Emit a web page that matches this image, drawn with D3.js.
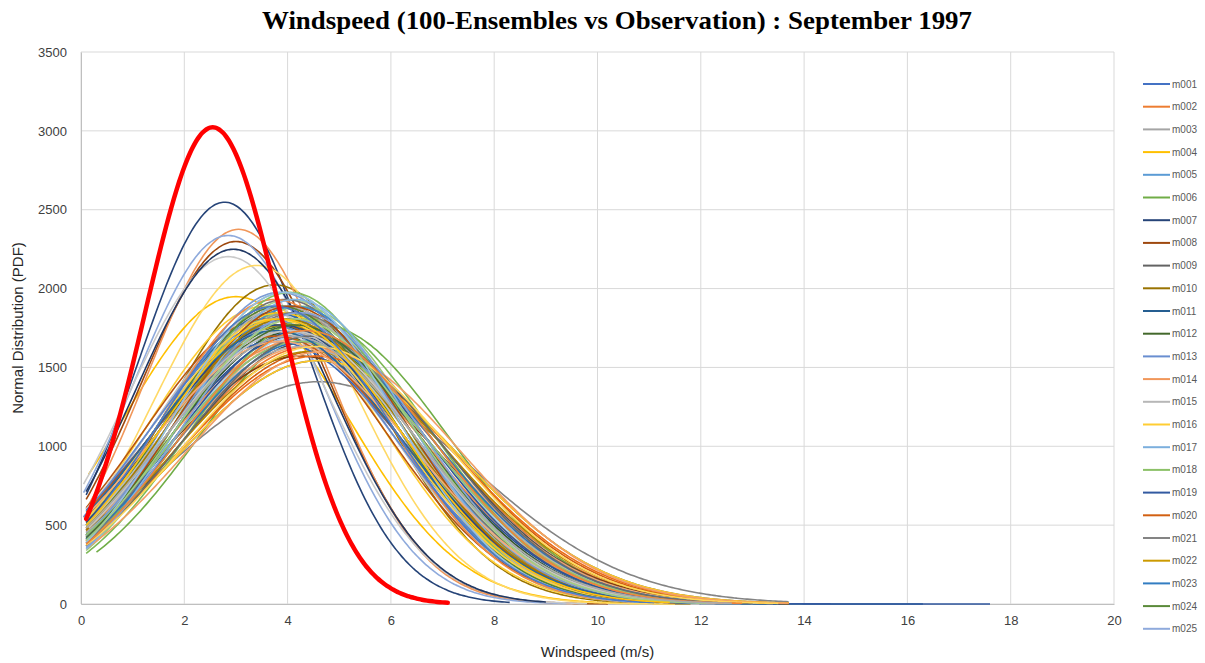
<!DOCTYPE html>
<html>
<head>
<meta charset="utf-8">
<script src="https://cdnjs.cloudflare.com/ajax/libs/d3/7.8.5/d3.min.js"></script>
<style>
  body { margin: 0; background: #fff; }
  svg { display: block; }
</style>
</head>
<body>
<div class="canvas"></div>
<script>
// ---- data ----
// each ensemble member is a normal curve: mean and std dev (m/s), plus the windspeed range it was plotted over
const ensembleTotal = 10600;
const obsTotal = 10000;

const memberMeans = [
  3.85, 4.45, 3.75, 3.0, 3.95, 4.7, 2.78, 3.0, 4.6, 3.75,
  4.15, 3.85, 3.65, 3.05, 3.75, 3.55, 4.05, 3.95, 4.25, 4.55,
  4.6, 3.85, 4.15, 3.75, 2.85, 4.35, 2.85, 3.4, 3.95, 4.05,
  2.95, 4.25, 4.45, 3.95, 3.75, 4.15, 3.85, 4.35, 3.65, 4.05,
  3.85, 4.25, 4.15, 3.55, 3.95, 4.45, 3.75, 4.05, 4.35, 3.85,
  3.65, 4.15, 4.25, 3.95, 3.75, 4.55, 4.05, 3.85, 4.15, 4.35,
  3.95, 3.75, 4.25, 3.85, 4.05, 4.45, 3.65, 4.15, 3.95, 4.6,
  3.85, 4.05, 4.25, 3.75, 4.15, 3.95, 4.35, 3.85, 4.05, 4.7,
  3.95, 3.75, 4.15, 4.25, 3.85, 4.05, 4.45, 3.95, 3.75, 4.15,
  4.25, 3.85, 4.05, 4.55, 3.95, 4.15, 3.75, 4.35, 4.05, 3.85
];

const memberSds = [
  2.34, 2.59, 2.44, 2.17, 2.29, 2.4, 1.66, 1.84, 2.74, 2.09,
  2.24, 2.49, 2.34, 1.78, 2.39, 2.24, 2.44, 2.29, 2.54, 2.64,
  3.0, 2.34, 2.44, 2.24, 1.81, 2.49, 1.92, 1.97, 2.34, 2.19,
  1.88, 2.69, 2.54, 2.24, 2.39, 2.44, 2.14, 2.59, 2.29, 2.34,
  2.44, 2.24, 2.49, 2.34, 2.19, 2.64, 2.29, 2.39, 2.54, 2.24,
  2.44, 2.34, 2.49, 2.14, 2.54, 2.69, 2.29, 2.39, 2.24, 2.44,
  2.34, 2.19, 2.59, 2.29, 2.44, 2.34, 2.39, 2.54, 2.24, 2.74,
  2.34, 2.14, 2.44, 2.49, 2.29, 2.39, 2.54, 2.24, 2.34, 2.64,
  2.44, 2.34, 2.19, 2.54, 2.39, 2.24, 2.49, 2.34, 2.44, 2.39,
  2.29, 2.54, 2.44, 2.59, 2.14, 2.34, 2.24, 2.44, 2.49, 2.34
];

const memberStart = [
  0.1, 0.1, 0.05, 0.15, 0.1, 0.3, 0.1, 0.1, 0.1, 0.2,
  0.1, 0.1, 0.05, 0.1, 0.1, 0.2, 0.1, 0.3, 0.1, 0.1,
  0.1, 0.15, 0.1, 0.1, 0.05, 0.1, 0.05, 0.1, 0.1, 0.2,
  0.1, 0.1, 0.1, 0.1, 0.15, 0.1, 0.1, 0.1, 0.2, 0.1,
  0.1, 0.1, 0.25, 0.1, 0.1, 0.1, 0.1, 0.15, 0.1, 0.1,
  0.1, 0.1, 0.1, 0.2, 0.1, 0.1, 0.1, 0.1, 0.1, 0.15,
  0.1, 0.1, 0.1, 0.1, 0.2, 0.1, 0.1, 0.1, 0.1, 0.1,
  0.1, 0.15, 0.1, 0.1, 0.1, 0.1, 0.1, 0.2, 0.1, 0.1,
  0.1, 0.1, 0.1, 0.1, 0.1, 0.25, 0.1, 0.1, 0.1, 0.1,
  0.1, 0.1, 0.15, 0.1, 0.1, 0.1, 0.1, 0.1, 0.1, 0.1
];

const memberEnd = [
  12.0, 13.7, 11.0, 10.8, 11.5, 13.7, 8.3, 10.2, 13.7, 11.8,
  16.3, 12.4, 11.2, 9.6, 11.0, 11.5, 12.2, 11.4, 17.6, 13.7,
  13.7, 11.6, 12.5, 10.8, 9.4, 13.0, 9.8, 11.5, 11.8, 11.0,
  9.0, 13.7, 13.2, 11.0, 11.6, 12.4, 10.6, 13.4, 11.0, 12.0,
  11.9, 11.8, 12.6, 11.0, 10.9, 13.7, 11.2, 12.1, 13.0, 11.1,
  11.3, 12.0, 12.8, 10.8, 12.2, 13.7, 11.6, 11.8, 11.7, 12.7,
  11.5, 10.7, 13.1, 11.2, 12.3, 12.4, 11.4, 12.9, 11.3, 13.7,
  11.4, 10.9, 12.5, 11.9, 11.7, 11.8, 13.0, 11.0, 11.9, 13.7,
  12.1, 11.3, 11.2, 12.9, 11.8, 11.5, 13.0, 11.6, 11.9, 12.2,
  12.0, 12.6, 12.3, 13.5, 10.8, 12.1, 11.1, 12.8, 12.6, 11.4
];

// observation
const obsMean = 2.55;
const obsSd = 1.32;
const obsStart = 0.1;
const obsEnd = 7.1;

const xTicks = [0, 2, 4, 6, 8, 10, 12, 14, 16, 18, 20];
const yTicks = [0, 500, 1000, 1500, 2000, 2500, 3000, 3500];
const legendCount = 25;

// excel 2013 chart palette: 6 accents, then tinted/shaded rounds
const accents = ['#4472C4', '#ED7D31', '#A5A5A5', '#FFC000', '#5B9BD5', '#70AD47'];
const tiers = [[1, 0], [0.6, 0], [0.8, 0.2], [0.8, 0], [0.6, 0.4], [0.5, 0],
               [0.7, 0.3], [0.7, 0], [0.5, 0.5], [0.9, 0], [0.9, 0.1], [0.85, 0.15],
               [0.75, 0], [0.75, 0.25], [0.65, 0], [0.65, 0.35], [0.95, 0.05]];

function memberColor(i) {
  const base = d3.hsl(accents[i % 6]);
  const t = tiers[Math.floor(i / 6) % tiers.length];
  base.l = Math.min(1, base.l * t[0] + t[1]);
  return base.formatHex();
}

const W = 1205, H = 663;
const margin = { top: 52, right: 91, bottom: 59, left: 81 };
const graphWidth = W - margin.left - margin.right;   // 1033
const graphHeight = H - margin.top - margin.bottom;  // 552

const svg = d3.select('.canvas')
  .append('svg')
  .attr('width', W)
  .attr('height', H);

const graph = svg.append('g')
  .attr('transform', `translate(${margin.left}, ${margin.top})`);

const x = d3.scaleLinear().domain([0, 20]).range([0, graphWidth]);
const y = d3.scaleLinear().domain([0, 3500]).range([graphHeight, 0]);

// grid
graph.append('g')
  .selectAll('line')
  .data(yTicks)
  .enter().append('line')
  .attr('x1', 0).attr('x2', graphWidth)
  .attr('y1', d => y(d)).attr('y2', d => y(d))
  .attr('stroke', '#d9d9d9').attr('stroke-width', 1);

graph.append('g')
  .selectAll('line')
  .data(xTicks)
  .enter().append('line')
  .attr('x1', d => x(d)).attr('x2', d => x(d))
  .attr('y1', 0).attr('y2', graphHeight)
  .attr('stroke', '#d9d9d9').attr('stroke-width', 1);

// axes
const xAxis = d3.axisBottom(x).tickValues(xTicks).tickSize(0).tickPadding(12);
const yAxis = d3.axisLeft(y).tickValues(yTicks).tickSize(0).tickPadding(14)
  .tickFormat(d3.format('d'));

const xAxisGroup = graph.append('g')
  .attr('transform', `translate(0, ${graphHeight})`)
  .call(xAxis);
const yAxisGroup = graph.append('g').call(yAxis);

[xAxisGroup, yAxisGroup].forEach(g => {
  g.select('.domain').attr('stroke', '#bfbfbf');
  g.selectAll('text')
    .attr('fill', '#404040')
    .style('font-family', 'Liberation Sans, Arial, sans-serif')
    .style('font-size', '13px');
});

// curves
function normalPoints(total, mean, sd, start, end) {
  const pts = [];
  const step = 0.05;
  for (let v = start; v <= end + 1e-9; v += step) {
    const z = (v - mean) / sd;
    pts.push([v, total / (sd * Math.sqrt(2 * Math.PI)) * Math.exp(-0.5 * z * z)]);
  }
  return pts;
}

const line = d3.line()
  .x(d => x(d[0]))
  .y(d => y(d[1]))
  .curve(d3.curveMonotoneX);

const members = memberMeans.map((m, i) => ({
  name: 'm' + String(i + 1).padStart(3, '0'),
  color: memberColor(i),
  points: normalPoints(ensembleTotal, m, memberSds[i], memberStart[i], memberEnd[i])
}));

graph.append('g')
  .selectAll('path')
  .data(members)
  .enter().append('path')
  .attr('d', d => line(d.points))
  .attr('fill', 'none')
  .attr('stroke', d => d.color)
  .attr('stroke-width', 1.6);

graph.append('path')
  .attr('d', line(normalPoints(obsTotal, obsMean, obsSd, obsStart, obsEnd)))
  .attr('fill', 'none')
  .attr('stroke', '#ff0000')
  .attr('stroke-width', 4.5)
  .attr('stroke-linecap', 'round');

// legend (only the first 25 members fit)
const legend = svg.append('g').attr('transform', 'translate(1143, 84)');
const legendItems = legend.selectAll('g')
  .data(members.slice(0, legendCount))
  .enter().append('g')
  .attr('transform', (d, i) => `translate(0, ${i * 22.7})`);

legendItems.append('line')
  .attr('x1', 0).attr('x2', 27)
  .attr('stroke', d => d.color)
  .attr('stroke-width', 2);

legendItems.append('text')
  .attr('x', 29)
  .attr('dy', '0.35em')
  .text(d => d.name)
  .attr('fill', '#595959')
  .style('font-family', 'Liberation Sans, Arial, sans-serif')
  .style('font-size', '10px');

// titles
svg.append('text')
  .attr('x', 617)
  .attr('y', 29)
  .attr('text-anchor', 'middle')
  .attr('textLength', 710)
  .attr('lengthAdjust', 'spacingAndGlyphs')
  .style('font-family', 'Liberation Serif, Times New Roman, serif')
  .style('font-weight', 'bold')
  .style('font-size', '25px')
  .attr('fill', '#000')
  .text('Windspeed (100-Ensembles vs Observation) : September 1997');

svg.append('text')
  .attr('x', margin.left + graphWidth / 2)
  .attr('y', 657)
  .attr('text-anchor', 'middle')
  .style('font-family', 'Liberation Sans, Arial, sans-serif')
  .style('font-size', '15px')
  .attr('fill', '#262626')
  .text('Windspeed (m/s)');

svg.append('text')
  .attr('transform', `translate(23, ${margin.top + graphHeight / 2}) rotate(-90)`)
  .attr('text-anchor', 'middle')
  .style('font-family', 'Liberation Sans, Arial, sans-serif')
  .style('font-size', '15px')
  .attr('fill', '#262626')
  .text('Normal Distribution (PDF)');
</script>
</body>
</html>
